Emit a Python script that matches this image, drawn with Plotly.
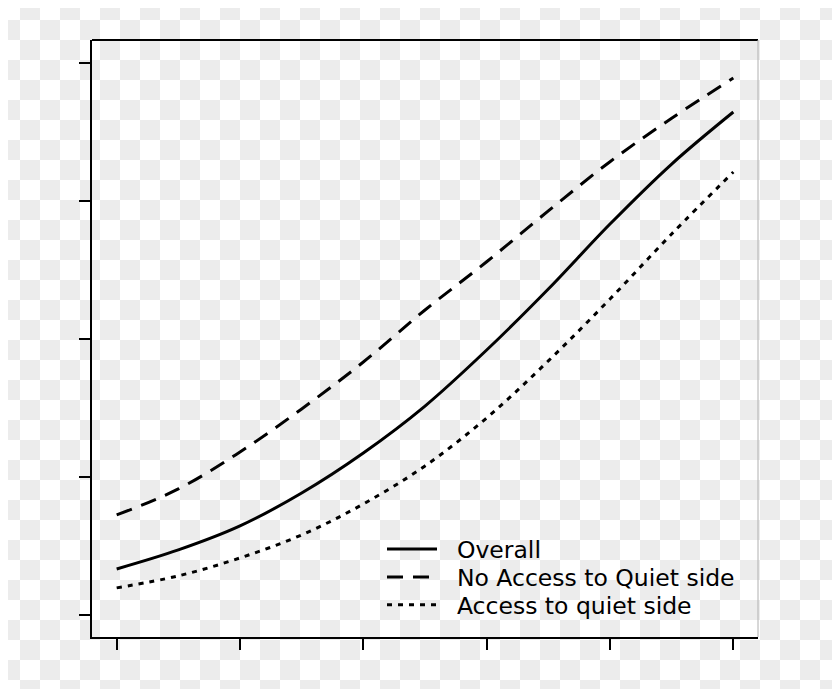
import plotly.graph_objects as go

# Data
x_vals = [45, 47.5, 50, 52.5, 55, 57.5, 60, 62.5, 65, 67.5, 70]
overall = [3.33, 4.71, 6.45, 8.84, 11.74, 15.14, 19.20, 23.62, 28.33, 32.68, 36.45]
no_access = [7.25, 9.13, 11.81, 14.93, 18.33, 22.10, 25.60, 29.28, 32.85, 36.00, 38.91]
access = [1.96, 2.83, 4.13, 5.80, 8.04, 10.80, 14.28, 18.41, 22.90, 27.61, 32.10]
x_ticks = [45, 50, 55, 60, 65, 70]
y_ticks = [0, 10, 20, 30, 40]
names = ["Overall", "No Access to Quiet side", "Access to quiet side"]

# page has an 8px body margin; figure is sized to fit the window
OFF = 8
W, H = 840 - OFF, 689 - OFF
ML, MT = 92 - OFF, 40 - OFF
MR, MB = 840 - 758, 689 - 637
PW, PH = W - ML - MR, H - MT - MB

NB = "\u00a0\u00a0"
fig = go.Figure()
fig.add_trace(go.Scatter(x=x_vals, y=overall, mode="lines", name=NB + names[0], legend="legend",
                         line=dict(color="black", width=3, shape="spline", dash="solid")))
fig.add_trace(go.Scatter(x=x_vals, y=no_access, mode="lines", name=NB + names[1], legend="legend2",
                         line=dict(color="black", width=3, shape="spline", dash="16px,10px")))
fig.add_trace(go.Scatter(x=x_vals, y=access, mode="lines", name=NB + names[2], legend="legend3",
                         line=dict(color="black", width=3, shape="spline", dash="5px,6px")))

# transparent-checkerboard backdrop (aligned to the page origin)
svg = ("<svg xmlns='http://www.w3.org/2000/svg' width='%d' height='%d'>"
       "<defs><pattern id='p' x='-8' y='-8' width='40' height='40' patternUnits='userSpaceOnUse'>"
       "<rect width='40' height='40' fill='white'/>"
       "<rect x='20' y='0' width='20' height='20' fill='%%23ececec'/>"
       "<rect x='0' y='20' width='20' height='20' fill='%%23ececec'/>"
       "</pattern></defs><rect width='%d' height='%d' fill='url(%%23p)'/></svg>") % (W, H, W, H)
src = "data:image/svg+xml;utf8," + svg.replace("<", "%3C").replace(">", "%3E").replace("'", "%27").replace(" ", "%20")

lfont = dict(family="DejaVu Sans", size=23.5, color="black")
lx = (382 - 92) / 666
def leg(ypage):
    return dict(x=lx, y=(637 - ypage) / 597, xanchor="left", yanchor="middle",
                bgcolor="rgba(0,0,0,0)", itemwidth=50, font=lfont, borderwidth=0)

fig.update_layout(
    width=W, height=H,
    margin=dict(l=ML, r=MR, t=MT, b=MB),
    paper_bgcolor="white",
    plot_bgcolor="rgba(0,0,0,0)",
    font=dict(family="DejaVu Sans", size=21, color="black"),
    showlegend=True,
    legend=leg(549.3),
    legend2=leg(577.3),
    legend3=leg(605),
    images=[dict(source=src, xref="paper", yref="paper",
                 x=-ML / PW, y=1 + MT / PH, sizex=W / PW, sizey=H / PH,
                 xanchor="left", yanchor="top", sizing="stretch", layer="below")],
    shapes=[
        dict(type="line", xref="paper", yref="paper", x0=0, x1=1, y0=1, y1=1,
             line=dict(color="black", width=2)),
        dict(type="line", xref="paper", yref="paper", x0=1, x1=1, y0=0, y1=1,
             line=dict(color="#b0b0b0", width=1)),
    ],
)
fig.update_xaxes(range=[44, 71], tickvals=x_ticks, showticklabels=False,
                 ticks="outside", ticklen=11, tickwidth=2, tickcolor="black",
                 showline=True, linecolor="black", linewidth=2,
                 showgrid=False, zeroline=False)
fig.update_yaxes(range=[-1.6, 41.67], tickvals=y_ticks, showticklabels=False,
                 ticks="outside", ticklen=11, tickwidth=2, tickcolor="black",
                 showline=True, linecolor="black", linewidth=2,
                 showgrid=False, zeroline=False)

fig.write_html("out.html")
